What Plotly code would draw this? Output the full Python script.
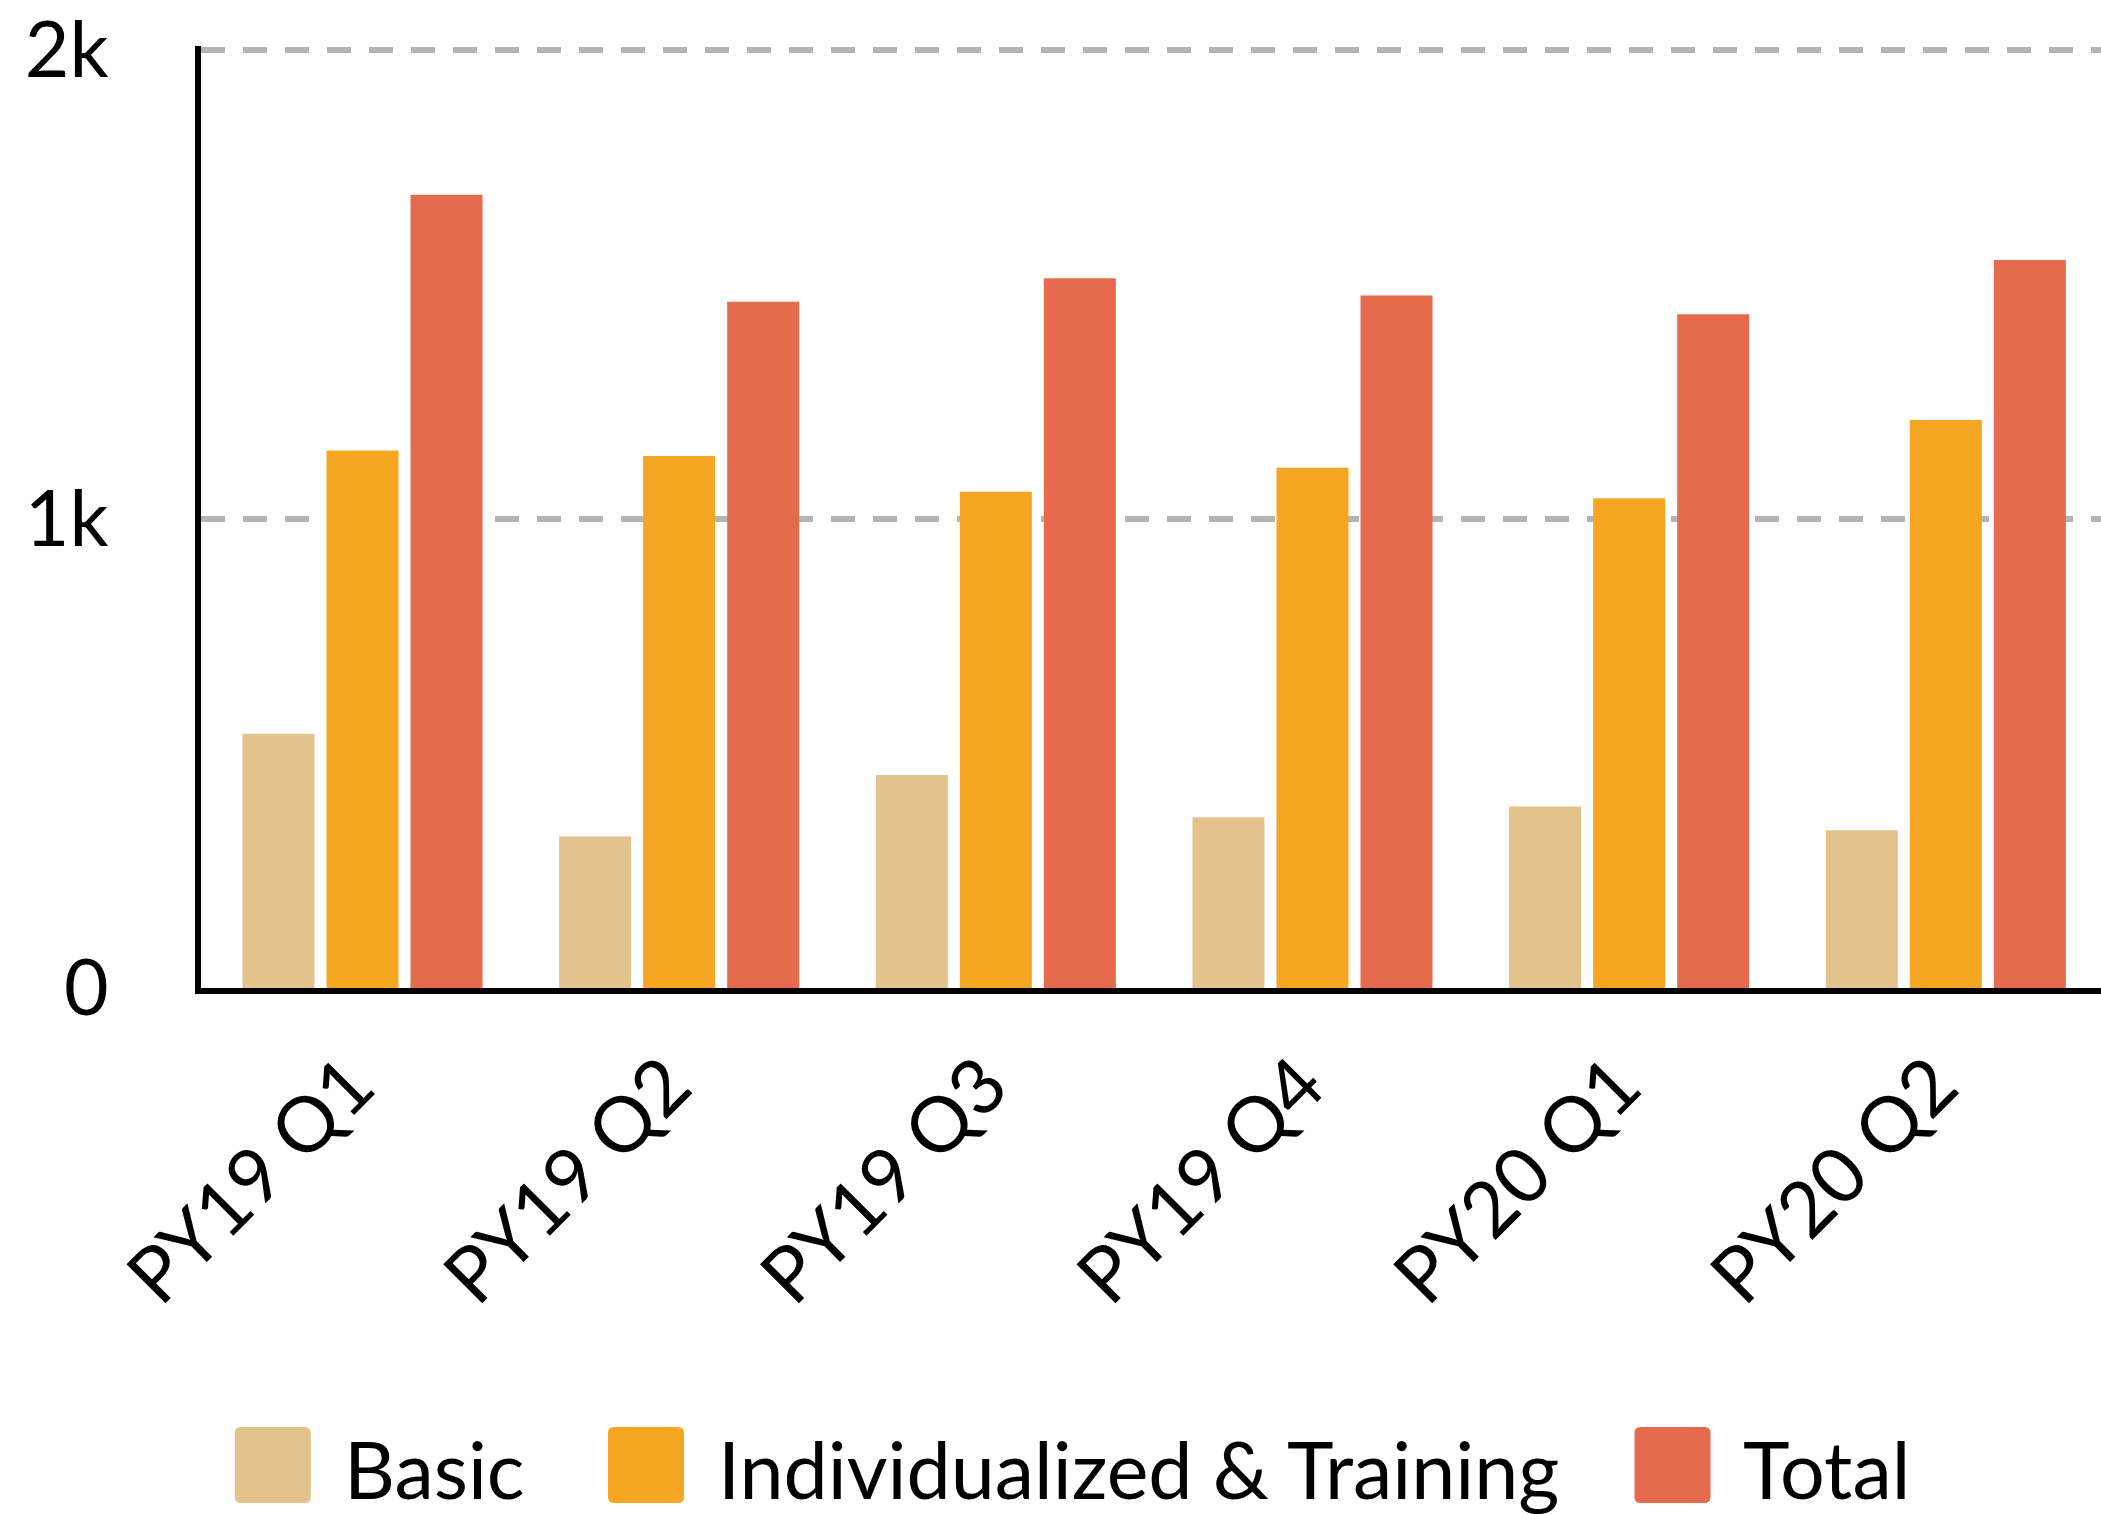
import plotly.graph_objects as go

# Quarterly participant counts by service type
quarters = ["PY19 Q1", "PY19 Q2", "PY19 Q3", "PY19 Q4", "PY20 Q1", "PY20 Q2"]
basic = [542, 323, 454, 364, 387, 336]
individualized = [1146, 1134, 1058, 1109, 1044, 1211]
total = [1691, 1463, 1513, 1476, 1436, 1552]

series_names = ["Basic", "Individualized & Training", "Total"]
series_colors = ["#E4C28B", "#F5A724", "#E66B4E"]
series_values = [basic, individualized, total]

y_tick_values = [0, 1000, 2000]
y_tick_labels = ["0", "1k", "2k"]

W, H = 2101, 1514
M_L, M_R, M_T, M_B = 201, 0, 46, 526
PLOT_W = W - M_L - M_R
PLOT_H = H - M_T - M_B

FONT = "Lato, 'Open Sans', sans-serif"

fig = go.Figure()
for name, color, vals in zip(series_names, series_colors, series_values):
    fig.add_trace(go.Bar(x=quarters, y=vals, name=name,
                         marker=dict(color=color, line=dict(width=0))))


def px_x(px):
    return (px - M_L) / PLOT_W


def px_y(py):
    return (M_T + PLOT_H - py) / PLOT_H


# Legend built as rounded swatches plus labels along the bottom
swatch_centers = [272.8, 646.0, 1672.5]
label_starts = [342, 716, 1741]
legend_y = 1465
half, rad = 38, 6
swatch_path = (f"M {-half + rad},{-half} L {half - rad},{-half} Q {half},{-half} {half},{-half + rad} "
               f"L {half},{half - rad} Q {half},{half} {half - rad},{half} "
               f"L {-half + rad},{half} Q {-half},{half} {-half},{half - rad} "
               f"L {-half},{-half + rad} Q {-half},{-half} {-half + rad},{-half} Z")
shapes = []
annotations = []
for name, color, cx, tx in zip(series_names, series_colors, swatch_centers, label_starts):
    shapes.append(dict(type="path", xref="paper", yref="paper",
                       xsizemode="pixel", ysizemode="pixel",
                       xanchor=px_x(cx), yanchor=px_y(legend_y),
                       path=swatch_path, fillcolor=color, line=dict(width=0),
                       layer="above"))
    annotations.append(dict(text=name, xref="paper", yref="paper",
                            x=px_x(tx), y=px_y(legend_y + 3),
                            xanchor="left", yanchor="middle", showarrow=False,
                            font=dict(family=FONT, size=79, color="#000000")))

fig.update_layout(
    width=W, height=H,
    margin=dict(l=M_L, r=M_R, t=M_T, b=M_B, pad=0),
    paper_bgcolor="white", plot_bgcolor="white",
    barmode="group", bargap=0.204, bargroupgap=0.143,
    showlegend=False,
    font=dict(family=FONT, size=77, color="#000000"),
    shapes=shapes, annotations=annotations,
)
fig.update_xaxes(
    type="category", range=[-0.51, 5.49],
    showline=True, linecolor="#000000", linewidth=6,
    showgrid=False, zeroline=False, ticks="",
    tickangle=-45, tickfont=dict(family=FONT, size=77, color="#000000"),
    ticklabelstandoff=15, ticklabelshift=-11,
)
fig.update_yaxes(
    range=[0, 2008],
    tickvals=y_tick_values, ticktext=y_tick_labels,
    showline=True, linecolor="#000000", linewidth=6,
    showgrid=True, gridcolor="#B4B4B4", gridwidth=6, griddash="24px,18px",
    zeroline=False, ticks="",
    tickfont=dict(family=FONT, size=77, color="#000000"),
    ticklabelstandoff=71,
)

fig.write_html("out.html")
